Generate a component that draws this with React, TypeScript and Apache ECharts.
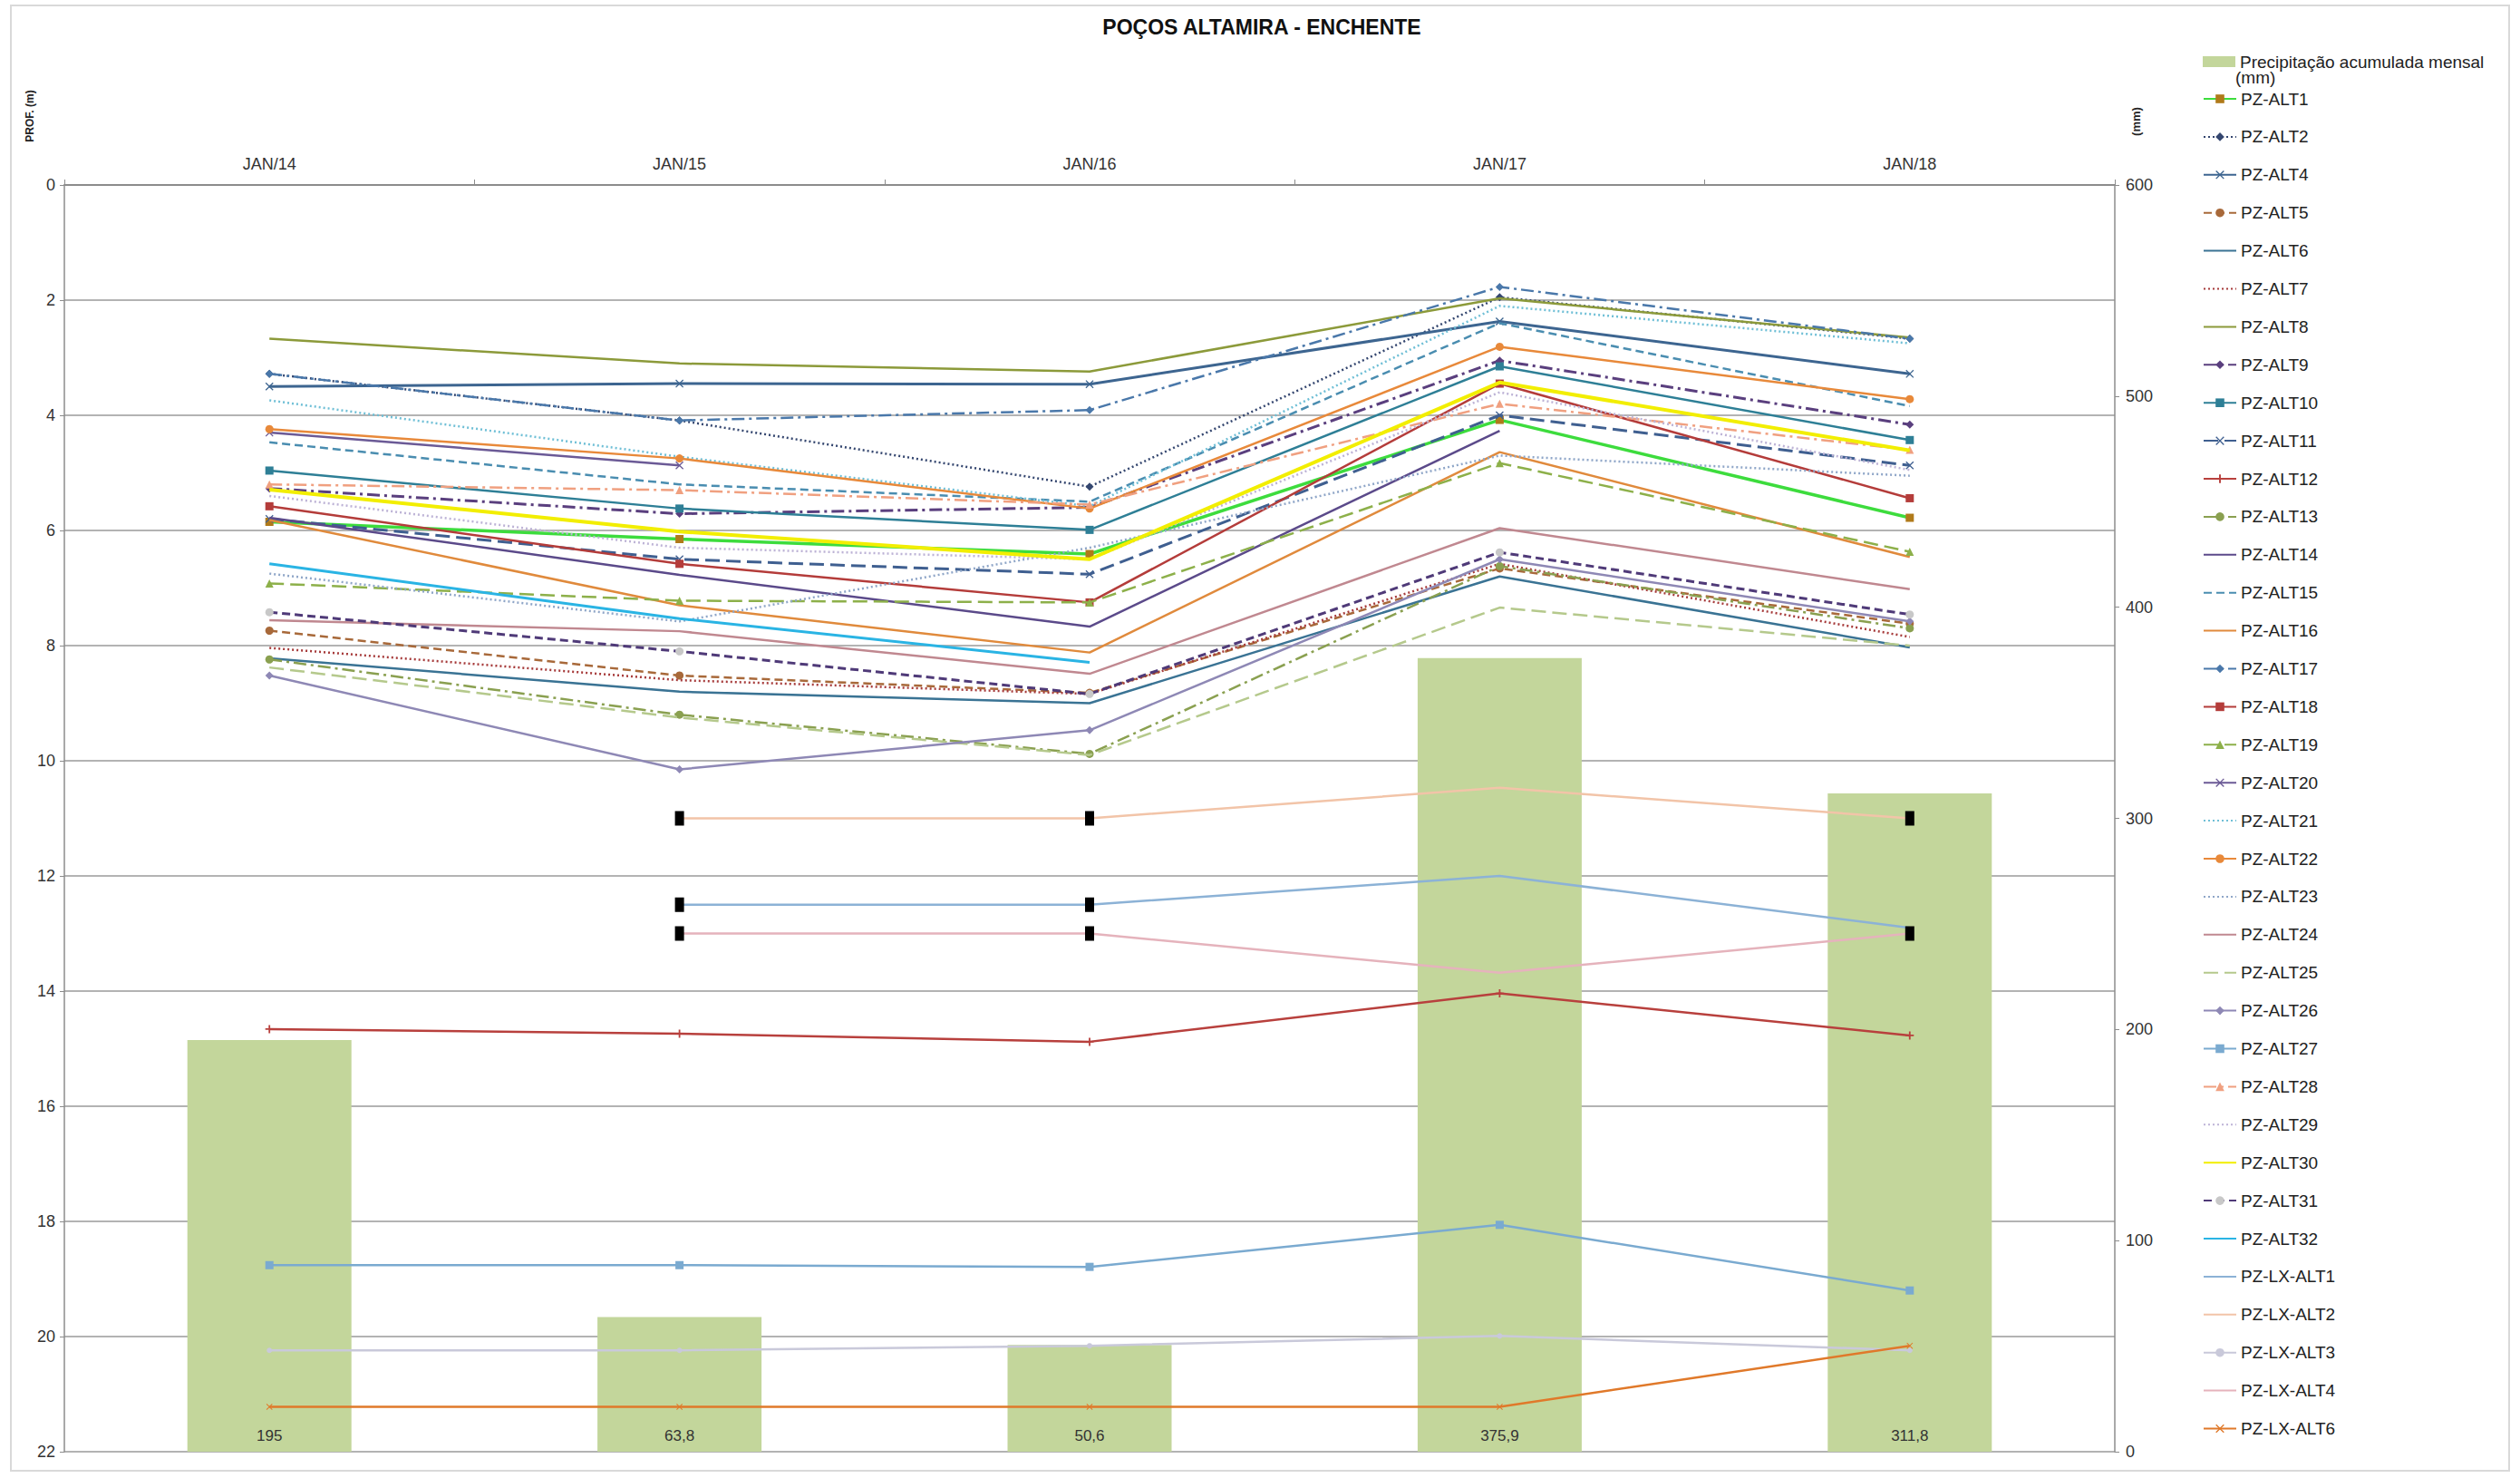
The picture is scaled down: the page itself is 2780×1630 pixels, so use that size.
import React, { useEffect, useRef } from 'react';
import * as echarts from 'echarts';

// Campaign months (top category axis)
const categories = ['JAN/14', 'JAN/15', 'JAN/16', 'JAN/17', 'JAN/18'];

// Monthly accumulated rainfall (mm), right axis
const precipitation = [195, 63.8, 50.6, 375.9, 311.8];

// Water level depth (m) per well, left axis (inverted)
const pzAlt1 = [5.85, 6.15, 6.41, 4.08, 5.78];
const pzAlt2 = [3.28, 4.09, 5.24, 1.95, 2.67];
const pzAlt4 = [3.5, 3.45, 3.46, 2.37, 3.28];
const pzAlt5 = [7.74, 8.52, 8.82, 6.66, 7.62];
const pzAlt6 = [8.22, 8.8, 9.0, 6.8, 8.03];
const pzAlt7 = [8.04, 8.6, 8.84, 6.58, 7.85];
const pzAlt8 = [2.67, 3.1, 3.24, 1.97, 2.65];
const pzAlt9 = [5.27, 5.71, 5.6, 3.05, 4.16];
const pzAlt10 = [4.96, 5.62, 5.99, 3.15, 4.43];
const pzAlt11 = [5.8, 6.5, 6.76, 4.0, 4.87];
const pzAlt12 = [14.66, 14.74, 14.88, 14.04, 14.77];
const pzAlt13 = [8.24, 9.2, 9.88, 6.62, 7.7];
const pzAlt14 = [5.78, 6.77, 7.67, 4.27, null];
const pzAlt15 = [4.47, 5.2, 5.5, 2.4, 3.84];
const pzAlt16 = [5.82, 7.3, 8.12, 4.64, 6.46];
const pzAlt17 = [3.28, 4.09, 3.91, 1.77, 2.67];
const pzAlt18 = [5.58, 6.58, 7.25, 3.45, 5.44];
const pzAlt19 = [6.92, 7.22, 7.25, 4.83, 6.37];
const pzAlt20 = [4.3, 4.87, null, null, null];
const pzAlt21 = [3.74, 4.72, 5.58, 2.1, 2.75];
const pzAlt22 = [4.24, 4.75, 5.62, 2.81, 3.72];
const pzAlt23 = [6.75, 7.58, 6.3, 4.7, 5.05];
const pzAlt24 = [7.56, 7.75, 8.49, 5.96, 7.02];
const pzAlt25 = [8.38, 9.25, 9.9, 7.34, 8.0];
const pzAlt26 = [8.52, 10.15, 9.47, 6.5, 7.58];
const pzAlt27 = [18.76, 18.76, 18.79, 18.06, 19.2];
const pzAlt28 = [5.2, 5.3, 5.55, 3.8, 4.6];
const pzAlt29 = [5.4, 6.3, 6.5, 3.6, 4.95];
const pzAlt30 = [5.29, 6.02, 6.5, 3.43, 4.61];
const pzAlt31 = [7.42, 8.1, 8.84, 6.38, 7.46];
const pzAlt32 = [6.58, 7.53, 8.29, null, null];
const pzLxAlt1 = [null, 12.5, 12.5, 12.0, 12.9];
const pzLxAlt2 = [null, 11.0, 11.0, 10.47, 11.0];
const pzLxAlt3 = [20.24, 20.24, 20.16, 19.99, 20.24];
const pzLxAlt4 = [null, 13.0, 13.0, 13.68, 13.0];
const pzLxAlt6 = [21.22, 21.22, 21.22, 21.22, 20.16];

// Points of the LX wells flagged with a black marker (category indices)
const lxAlt1Flags = [1, 2];
const lxAlt2Flags = [1, 2, 4];
const lxAlt4Flags = [1, 2, 4];

// Dash patterns
const SOLID = 'solid';
const DOT = [2, 3];
const DASH = [9, 5];
const LONG = [16, 7];
const DASHDOT = [14, 5, 3, 5];

const CROSS = 'path://M0,1L1,0L5,4L9,0L10,1L6,5L10,9L9,10L5,6L1,10L0,9L4,5Z';
const PLUS = 'path://M4,0H6V4H10V6H6V10H4V6H0V4H4Z';

type Def = {
  name: string;
  data: (number | null)[];
  color: string;
  marker?: string;
  dash: any;
  symbol: string;
  size?: number;
  width?: number;
  flags?: number[];
};

const lineDefs: Def[] = [
  { name: 'PZ-ALT1', data: pzAlt1, color: '#3DDC3D', marker: '#B07A1A', dash: SOLID, symbol: 'rect', width: 3.5 },
  { name: 'PZ-ALT2', data: pzAlt2, color: '#34466F', dash: DOT, symbol: 'diamond', width: 2.5 },
  { name: 'PZ-ALT4', data: pzAlt4, color: '#3D6590', dash: SOLID, symbol: CROSS, width: 3 },
  { name: 'PZ-ALT5', data: pzAlt5, color: '#A8693A', dash: DASH, symbol: 'circle', width: 2.5 },
  { name: 'PZ-ALT6', data: pzAlt6, color: '#3A7394', dash: SOLID, symbol: 'none', width: 2.5 },
  { name: 'PZ-ALT7', data: pzAlt7, color: '#A63A3A', dash: DOT, symbol: 'none', width: 2.5 },
  { name: 'PZ-ALT8', data: pzAlt8, color: '#8C9A3A', dash: SOLID, symbol: 'none', width: 2.5 },
  { name: 'PZ-ALT9', data: pzAlt9, color: '#5A3F7E', dash: DASHDOT, symbol: 'diamond', width: 3 },
  { name: 'PZ-ALT10', data: pzAlt10, color: '#2E7F96', dash: SOLID, symbol: 'rect', width: 2.5 },
  { name: 'PZ-ALT11', data: pzAlt11, color: '#3F5F90', dash: LONG, symbol: CROSS, width: 3 },
  { name: 'PZ-ALT12', data: pzAlt12, color: '#B8403D', dash: SOLID, symbol: PLUS, width: 2.5 },
  { name: 'PZ-ALT13', data: pzAlt13, color: '#8AA050', dash: DASHDOT, symbol: 'circle', width: 2.5 },
  { name: 'PZ-ALT14', data: pzAlt14, color: '#5B4A8A', dash: SOLID, symbol: 'none', width: 2.5 },
  { name: 'PZ-ALT15', data: pzAlt15, color: '#4A8DB0', dash: DASH, symbol: 'none', width: 2.5 },
  { name: 'PZ-ALT16', data: pzAlt16, color: '#E08A3C', dash: SOLID, symbol: 'none', width: 2.5 },
  { name: 'PZ-ALT17', data: pzAlt17, color: '#4A78AA', dash: DASHDOT, symbol: 'diamond', width: 2.5 },
  { name: 'PZ-ALT18', data: pzAlt18, color: '#B43C3A', dash: SOLID, symbol: 'rect', width: 2.5 },
  { name: 'PZ-ALT19', data: pzAlt19, color: '#8DB04A', dash: LONG, symbol: 'triangle', width: 2.5 },
  { name: 'PZ-ALT20', data: pzAlt20, color: '#6B5A96', dash: SOLID, symbol: CROSS, width: 2.5 },
  { name: 'PZ-ALT21', data: pzAlt21, color: '#6FBFD6', dash: DOT, symbol: 'none', width: 2.5 },
  { name: 'PZ-ALT22', data: pzAlt22, color: '#E8893A', dash: SOLID, symbol: 'circle', width: 2.5 },
  { name: 'PZ-ALT23', data: pzAlt23, color: '#8FA6C8', dash: DOT, symbol: 'none', width: 2.5 },
  { name: 'PZ-ALT24', data: pzAlt24, color: '#C08890', dash: SOLID, symbol: 'none', width: 2.5 },
  { name: 'PZ-ALT25', data: pzAlt25, color: '#B5C98C', dash: LONG, symbol: 'none', width: 2.5 },
  { name: 'PZ-ALT26', data: pzAlt26, color: '#8E88B5', dash: SOLID, symbol: 'diamond', width: 2.5 },
  { name: 'PZ-ALT27', data: pzAlt27, color: '#7AAAD0', dash: SOLID, symbol: 'rect', width: 2.5 },
  { name: 'PZ-ALT28', data: pzAlt28, color: '#F0A080', dash: DASHDOT, symbol: 'triangle', width: 2.5 },
  { name: 'PZ-ALT29', data: pzAlt29, color: '#BDB3D6', dash: DOT, symbol: 'none', width: 2.5 },
  { name: 'PZ-ALT30', data: pzAlt30, color: '#F2EE00', dash: SOLID, symbol: 'none', width: 4 },
  { name: 'PZ-ALT31', data: pzAlt31, color: '#4F3A78', marker: '#C8C8C8', dash: DASH, symbol: 'circle', width: 3 },
  { name: 'PZ-ALT32', data: pzAlt32, color: '#2AB4E4', dash: SOLID, symbol: 'none', width: 3 },
  { name: 'PZ-LX-ALT1', data: pzLxAlt1, color: '#8CB2D6', dash: SOLID, symbol: 'none', width: 2.5, flags: lxAlt1Flags },
  { name: 'PZ-LX-ALT2', data: pzLxAlt2, color: '#F2C4A8', dash: SOLID, symbol: 'none', width: 2.5, flags: lxAlt2Flags },
  { name: 'PZ-LX-ALT3', data: pzLxAlt3, color: '#C9C9DA', dash: SOLID, symbol: 'circle', size: 6, width: 2.5 },
  { name: 'PZ-LX-ALT4', data: pzLxAlt4, color: '#E5B3BC', dash: SOLID, symbol: 'none', width: 2.5, flags: lxAlt4Flags },
  { name: 'PZ-LX-ALT6', data: pzLxAlt6, color: '#E0792A', dash: SOLID, symbol: CROSS, size: 7, width: 2.5 },
];

const PRECIP_NAME = 'Precipitação acumulada mensal (mm)';
const FONT = 'Liberation Sans, Arial, sans-serif';

export default function App() {
  const ref = useRef<HTMLDivElement>(null);

  useEffect(() => {
    if (!ref.current) return;
    const chart = echarts.init(ref.current, undefined, { renderer: 'svg' });

    const lineSeries = lineDefs.map((d, idx) => ({
      type: 'line',
      name: d.name,
      yAxisIndex: 0,
      data: d.data.map((v, i) =>
        d.flags && d.flags.includes(i) && v != null
          ? { value: v, symbol: 'rect', symbolSize: [10, 16], itemStyle: { color: '#000' } }
          : v
      ),
      symbol: d.symbol,
      symbolSize: d.size ?? 9,
      showAllSymbol: true,
      connectNulls: false,
      lineStyle: { color: d.color, width: d.width ?? 2.5, type: d.dash },
      itemStyle: { color: d.marker ?? d.color },
      emphasis: { disabled: true },
      z: 3 + idx * 0.01,
    }));

    // Legend entries: wells without point markers show only their line
    const legendItems = lineDefs.map((d) =>
      d.symbol === 'none' ? { name: d.name, itemStyle: { opacity: 0 } } : { name: d.name }
    );

    chart.setOption({
      animation: false,
      textStyle: { fontFamily: FONT },
      grid: { left: 71, right: 447, top: 204, bottom: 29, containLabel: false },
      xAxis: {
        type: 'category',
        position: 'top',
        data: categories,
        boundaryGap: true,
        axisLine: { show: true, lineStyle: { color: '#8C8C8C', width: 2 } },
        axisTick: { show: true, length: 6, lineStyle: { color: '#8C8C8C' } },
        axisLabel: { fontSize: 18, color: '#333', margin: 14, fontFamily: FONT },
        splitLine: { show: false },
      },
      yAxis: [
        {
          type: 'value',
          inverse: true,
          min: 0,
          max: 22,
          interval: 2,
          position: 'left',
          axisLine: { show: true, lineStyle: { color: '#8C8C8C', width: 1.5 } },
          axisTick: { show: true, length: 5, lineStyle: { color: '#8C8C8C' } },
          axisLabel: { fontSize: 18, color: '#333', margin: 10, fontFamily: FONT },
          splitLine: { show: true, lineStyle: { color: '#9A9A9A', width: 1.5 } },
        },
        {
          type: 'value',
          min: 0,
          max: 600,
          interval: 100,
          position: 'right',
          axisLine: { show: true, lineStyle: { color: '#8C8C8C', width: 1.5 } },
          axisTick: { show: true, length: 5, lineStyle: { color: '#8C8C8C' } },
          axisLabel: { fontSize: 18, color: '#333', margin: 12, fontFamily: FONT },
          splitLine: { show: false },
        },
      ],
      legend: [
        {
          orient: 'vertical',
          left: 2425,
          top: 52,
          itemWidth: 36,
          itemHeight: 12,
          selectedMode: false,
          data: [{ name: PRECIP_NAME, icon: 'rect' }],
          formatter: () => 'Precipitação acumulada mensal',
          textStyle: { fontSize: 19, lineHeight: 22, color: '#222', fontFamily: FONT },
        },
        {
          orient: 'vertical',
          left: 2425,
          top: 93,
          itemWidth: 36,
          itemHeight: 12,
          itemGap: 19.9,
          selectedMode: false,
          data: legendItems,
          textStyle: { fontSize: 19, lineHeight: 22, color: '#222', fontFamily: FONT },
        },
      ],
      graphic: [
        {
          type: 'rect',
          shape: { x: 12, y: 6, width: 2756, height: 1616 },
          style: { fill: 'none', stroke: '#D9D9D9', lineWidth: 2 },
          silent: true,
          z: -10,
        },
        {
          type: 'text',
          x: 1392,
          y: 30,
          style: {
            text: 'POÇOS ALTAMIRA - ENCHENTE',
            align: 'center',
            verticalAlign: 'middle',
            font: `bold 23px ${FONT}`,
            fill: '#111',
          },
        },
        {
          type: 'text',
          x: 33,
          y: 128,
          rotation: Math.PI / 2,
          style: {
            text: 'PROF. (m)',
            align: 'center',
            verticalAlign: 'middle',
            font: `bold 12px ${FONT}`,
            fill: '#222',
          },
        },
        {
          type: 'text',
          x: 2356,
          y: 134,
          rotation: Math.PI / 2,
          style: {
            text: '(mm)',
            align: 'center',
            verticalAlign: 'middle',
            font: `bold 13px ${FONT}`,
            fill: '#222',
          },
        },
        {
          type: 'text',
          x: 2466,
          y: 85,
          style: {
            text: '(mm)',
            align: 'left',
            verticalAlign: 'middle',
            font: `19px ${FONT}`,
            fill: '#222',
          },
        },
      ],
      series: [
        {
          type: 'bar',
          name: PRECIP_NAME,
          yAxisIndex: 1,
          data: precipitation,
          barWidth: 181,
          itemStyle: { color: '#C3D69B' },
          emphasis: { disabled: true },
          z: 1,
          label: {
            show: true,
            position: 'insideBottom',
            distance: 9,
            fontSize: 17,
            color: '#333',
            fontFamily: FONT,
            formatter: (p: any) => String(p.value).replace('.', ','),
          },
        },
        ...lineSeries,
      ],
    });

    return () => chart.dispose();
  }, []);

  return (
    <div
      ref={ref}
      style={{ position: 'fixed', left: 0, top: 0, width: 2780, height: 1630, background: '#fff' }}
    />
  );
}
